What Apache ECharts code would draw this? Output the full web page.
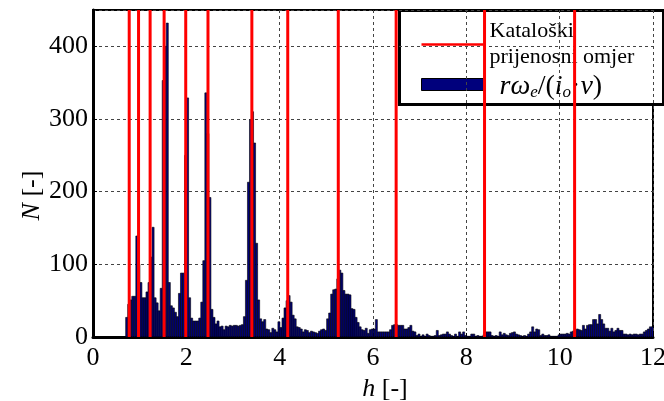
<!DOCTYPE html>
<html>
<head>
<meta charset="utf-8">
<script src="https://cdn.jsdelivr.net/npm/echarts@6/dist/echarts.min.js"></script>
<style>
  html, body { margin: 0; padding: 0; background: #fff; }
  #chart { width: 664px; height: 401px; }
</style>
</head>
<body>
<div id="chart"></div>
<script>
// histogram bins: first bin starts at binStart, all bins binWidth wide
const binStart = 0.70;
const binWidth = 0.0435;
const counts = [
  27, 45, 51, 56, 56, 139, 100, 75, 54, 54, 62, 75, 110, 151, 54, 47, 36, 67, 353, 400,
  432, 75, 43, 40, 34, 28, 60, 88, 88, 250, 329, 54, 26, 22, 22, 22, 26, 48, 105, 336,
  280, 192, 38, 27, 18, 22, 14, 15, 10, 15, 14, 16, 15, 16, 16, 15, 16, 17, 28, 78,
  213, 299, 310, 267, 129, 51, 25, 21, 24, 11, 10, 6, 12, 10, 7, 21, 13, 26, 40, 50,
  57, 48, 30, 25, 14, 13, 11, 7, 10, 9, 6, 8, 7, 6, 5, 8, 10, 11, 9, 25,
  33, 59, 65, 66, 80, 92, 88, 64, 59, 59, 58, 39, 38, 27, 20, 14, 10, 9, 12, 5,
  10, 11, 11, 24, 7, 7, 7, 7, 7, 7, 10, 16, 17, 17, 16, 16, 16, 11, 11, 13,
  16, 8, 7, 2, 4, 1, 3, 1, 4, 2, 1, 1, 2, 9, 2, 3, 4, 4, 7, 4,
  2, 1, 4, 1, 7, 4, 7, 2, 1, 1, 4, 4, 1, 2, 1, 1, 3, 7, 7, 7,
  2, 1, 2, 1, 7, 3, 5, 3, 2, 5, 6, 7, 4, 3, 2, 1, 2, 1, 4, 7,
  14, 7, 11, 10, 2, 4, 2, 2, 3, 1, 1, 1, 1, 3, 4, 4, 4, 5, 4, 7,
  8, 9, 11, 10, 9, 16, 11, 16, 17, 17, 24, 24, 18, 31, 24, 18, 12, 12, 8, 12,
  7, 9, 12, 9, 9, 4, 4, 3, 4, 3, 4, 4, 3, 4, 4, 7, 9, 11, 14, 14
];
// catalogue gear ratios (red lines)
const gearRatios = [0.776, 0.976, 1.224, 1.524, 1.987, 2.464, 3.404, 4.173, 5.256, 6.496, 8.39, 10.32];
const xTicks = { min: 0, max: 12, interval: 2 };
const yTicks = { min: 0, max: 450, interval: 100 };

const serif = 'Liberation Serif';
const navy = '#00007c';

const binData = counts.map((n, i) => [binStart + i * binWidth, binStart + (i + 1) * binWidth, n]);
const ratioData = gearRatios.map((v) => [v]);

const chart = echarts.init(document.getElementById('chart'));

function nameStyle(padding) {
  return {
    fontFamily: serif, fontSize: 26, color: '#000', padding,
    rich: {
      i: { fontFamily: serif, fontSize: 26, fontStyle: 'italic', color: '#000' },
      n: { fontFamily: serif, fontSize: 26, color: '#000' },
    },
  };
}

chart.setOption({
  animation: false,
  backgroundColor: '#fff',
  textStyle: { fontFamily: serif },
  grid: {
    left: 93, right: 11, top: 10, bottom: 64,
    outerBoundsMode: 'none',
    show: true, borderColor: '#000', borderWidth: 2, backgroundColor: '#fff',
  },
  xAxis: {
    type: 'value',
    min: xTicks.min, max: xTicks.max, interval: xTicks.interval,
    name: '{i|h}{n| [-]}',
    nameLocation: 'middle',
    nameGap: 38,
    nameTextStyle: nameStyle([0, 0, 0, 24]),
    axisLine: { show: true, onZero: false, lineStyle: { color: '#000', width: 3 } },
    axisTick: { show: true, inside: true, length: 4, lineStyle: { color: '#000' } },
    axisLabel: { fontFamily: serif, fontSize: 26, color: '#000', margin: 8 },
    splitLine: { show: true, lineStyle: { color: '#444', type: [3, 3], width: 1 } },
  },
  yAxis: {
    type: 'value',
    min: yTicks.min, max: yTicks.max, interval: yTicks.interval,
    name: '{i|N}{n| [-]}',
    nameLocation: 'middle',
    nameGap: 48,
    nameMoveOverlap: false,
    nameRotate: 90,
    nameTextStyle: nameStyle([0, 44, 0, 0]),
    axisLine: { show: true, lineStyle: { color: '#000', width: 3 } },
    axisTick: { show: true, inside: true, length: 4, lineStyle: { color: '#000' } },
    axisLabel: { fontFamily: serif, fontSize: 26, color: '#000', margin: 5, showMaxLabel: false },
    splitLine: { show: true, lineStyle: { color: '#444', type: [3, 3], width: 1 } },
  },
  series: [
    {
      name: 'hist',
      type: 'custom',
      clip: true,
      encode: { x: [0, 1], y: 2 },
      data: binData,
      renderItem(params, api) {
        const top = api.coord([api.value(0), api.value(2)]);
        const bottom = api.coord([api.value(1), 0]);
        return {
          type: 'rect',
          shape: { x: top[0], y: top[1], width: bottom[0] - top[0], height: bottom[1] - top[1] },
          style: { fill: navy, stroke: '#000', lineWidth: 0.6 },
        };
      },
      z: 2,
    },
    {
      name: 'ratios',
      type: 'custom',
      clip: true,
      encode: { x: 0 },
      data: ratioData,
      renderItem(params, api) {
        const a = api.coord([api.value(0), yTicks.min]);
        const b = api.coord([api.value(0), yTicks.max]);
        return {
          type: 'line',
          shape: { x1: a[0], y1: a[1], x2: b[0], y2: b[1] },
          style: { stroke: '#ff0000', lineWidth: 3 },
        };
      },
      z: 3,
    },
  ],
  graphic: [
    {
      type: 'group',
      left: 398, top: 9,
      z: 10,
      children: [
        { type: 'rect', shape: { x: 0, y: 0, width: 264, height: 94 }, style: { fill: '#fff', stroke: '#000', lineWidth: 3 } },
        { type: 'line', shape: { x1: 22, y1: 34, x2: 84, y2: 34 }, style: { stroke: '#ff0000', lineWidth: 2.5 } },
        { type: 'rect', shape: { x: 22, y: 68, width: 63, height: 12 }, style: { fill: navy, stroke: '#000', lineWidth: 1 } },
        {
          type: 'text', x: 90, y: 21,
          style: { text: 'Kataloški', fontFamily: serif, fontSize: 22, fill: '#000', verticalAlign: 'middle' },
        },
        {
          type: 'text', x: 90, y: 47,
          style: { text: 'prijenosni omjer', fontFamily: serif, fontSize: 22, fill: '#000', verticalAlign: 'middle' },
        },
        {
          type: 'text', x: 100, y: 76,
          style: {
            text: '{it|rω}{sub|e}{n|/(}{it|i}{sub|o}{n|·}{it|v}{n|)}',
            verticalAlign: 'middle',
            rich: {
              it: { fontFamily: serif, fontSize: 28, fontStyle: 'italic', fill: '#000' },
              n: { fontFamily: serif, fontSize: 28, fill: '#000' },
              sub: { fontFamily: serif, fontSize: 17, fontStyle: 'italic', fill: '#000', verticalAlign: 'bottom', lineHeight: 30 },
            },
          },
        },
      ],
    },
  ],
});
</script>
</body>
</html>
